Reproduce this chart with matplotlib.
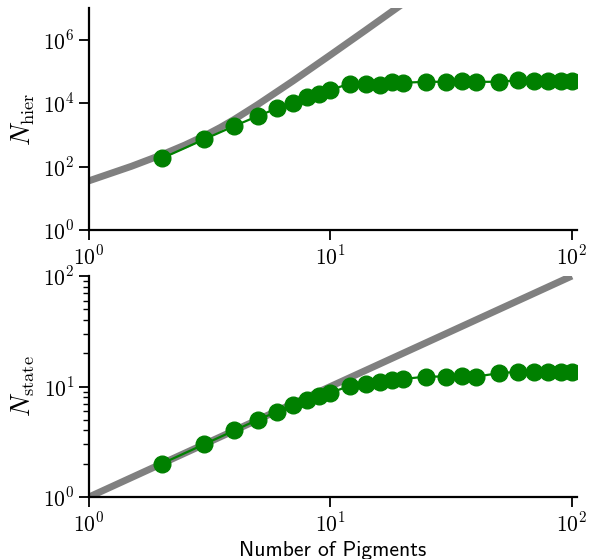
"""number of hierarchies / states vs number of pigments"""

import math

import matplotlib
matplotlib.use('Agg')
import matplotlib.pyplot as plt
from matplotlib import ticker

# simulated points
n_pigments = [2, 3, 4, 5, 6, 7, 8, 9, 10, 12, 14, 16, 18, 20,
              25, 30, 35, 40, 50, 60, 70, 80, 90, 100]
n_hier = [180, 720, 1900, 3900, 6800, 10000, 16000, 19000, 26000, 41000,
          39000, 37000, 47000, 44000, 47000, 47000, 50000, 47000, 47000,
          53000, 50000, 50000, 50000, 50000]
n_state = [2.0, 3.0, 4.0, 5.0, 5.9, 6.8, 7.55, 8.2, 8.8, 10.1, 10.5, 11.0,
           11.5, 11.7, 12.3, 12.3, 12.5, 12.3, 13.2, 13.6, 13.4, 13.6, 13.6, 13.4]

# theory curves
hier_theory_n = [1, 1.5, 2, 2.5, 3, 3.5, 4, 5, 7, 10, 14, 20, 25]
hier_theory = [35.5, 102, 234, 479, 923, 1710, 3080, 9000, 50000,
               3.3e5, 2.0e6, 1.38e7, 4.6e7]
state_theory_n = [1, 100]
state_theory = [1, 100]

plt.rcParams['mathtext.fontset'] = 'cm'
plt.rcParams['font.size'] = 15.5
plt.rcParams['axes.linewidth'] = 1.6

GRAY = '#808080'
GREEN = 'green'


def pow10(v, pos):
    return r'$10^{%d}$' % round(math.log10(v))


def style(ax):
    ax.set_xscale('log')
    ax.set_yscale('log')
    ax.spines['top'].set_visible(False)
    ax.spines['right'].set_visible(False)
    ax.set_xlim(1, 105)
    ax.xaxis.set_major_locator(ticker.FixedLocator([1, 10, 100]))
    ax.xaxis.set_minor_locator(ticker.NullLocator())
    ax.xaxis.set_major_formatter(ticker.FuncFormatter(pow10))
    ax.yaxis.set_major_formatter(ticker.FuncFormatter(pow10))
    ax.tick_params(which='major', length=7, width=1.3)
    ax.tick_params(which='minor', length=4, width=1.0)


fig = plt.figure(figsize=(5.92, 5.59), dpi=100)
ax1 = fig.add_axes([0.1503, 0.5886, 0.8243, 0.3971])
ax2 = fig.add_axes([0.1503, 0.1109, 0.8243, 0.3953])

ax1.plot(hier_theory_n, hier_theory, color=GRAY, lw=5, solid_capstyle='butt')
ax1.plot(n_pigments, n_hier, color=GREEN, lw=1.6, marker='o', ms=12)
style(ax1)
ax1.set_ylim(1, 1e7)
ax1.yaxis.set_major_locator(ticker.FixedLocator([1, 1e2, 1e4, 1e6]))
ax1.yaxis.set_minor_locator(ticker.NullLocator())
ax1.set_ylabel(r'$N_{\rm hier}$', fontsize=19)

ax2.plot(state_theory_n, state_theory, color=GRAY, lw=5, solid_capstyle='butt')
ax2.plot(n_pigments, n_state, color=GREEN, lw=1.6, marker='o', ms=12)
style(ax2)
ax2.set_ylim(1, 100)
ax2.yaxis.set_minor_formatter(ticker.NullFormatter())
ax2.set_ylabel(r'$N_{\rm state}$', fontsize=19)
ax2.set_xlabel('Number of Pigments', family='cmss10')

fig.savefig('out.png', dpi=100)
